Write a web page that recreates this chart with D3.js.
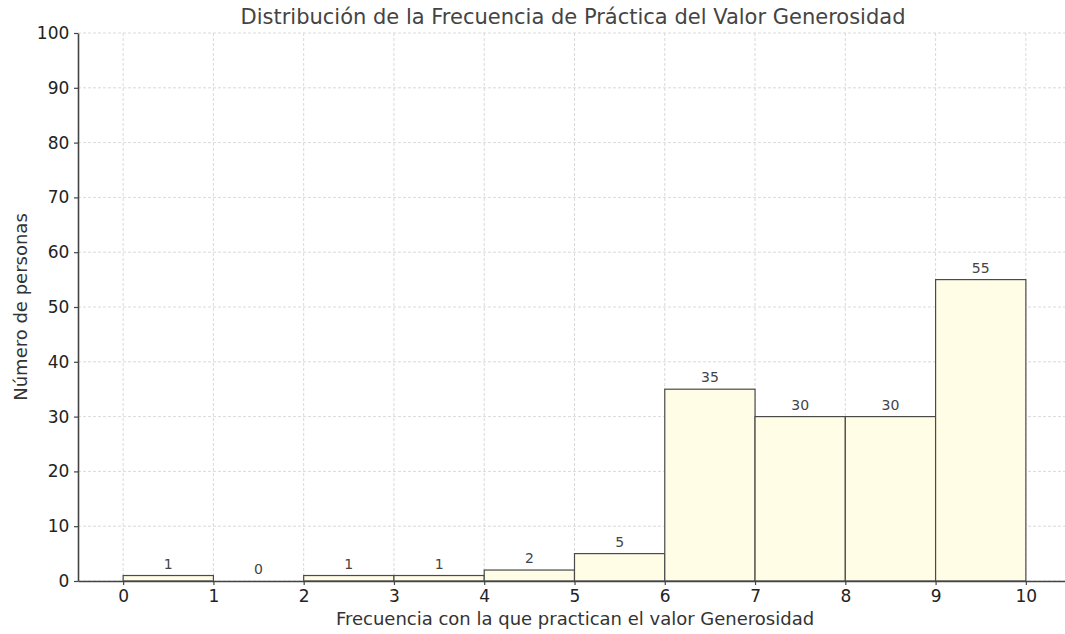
<!DOCTYPE html>
<html>
<head>
<meta charset="utf-8">
<script src="https://cdn.jsdelivr.net/npm/d3@7"></script>
<style>
    body { margin: 0; background: #fff; }
    text { font-family: "DejaVu Sans", sans-serif; }
</style>
</head>
<body>
<div id="chart"></div>
<script>
// bins start at each integer value, width 1
const binStarts = [0, 1, 2, 3, 4, 5, 6, 7, 8, 9];
const counts = [1, 0, 1, 1, 2, 5, 35, 30, 30, 55];
const xTicks = [0, 1, 2, 3, 4, 5, 6, 7, 8, 9, 10];
const yTicks = [0, 10, 20, 30, 40, 50, 60, 70, 80, 90, 100];

const w = 1065;
const h = 634;
const margin = { left: 78, right: -6, top: 33, bottom: 53 };

const xScale = d3.scaleLinear()
    .domain([-0.5, 10.5])
    .range([margin.left, w - margin.right]);

const yScale = d3.scaleLinear()
    .domain([0, 100])
    .range([h - margin.bottom, margin.top]);

const svg = d3.select("#chart")
    .append("svg")
    .attr("width", w)
    .attr("height", h);

// grid
const grid = svg.append("g").attr("class", "grid");
grid.selectAll(".vgrid")
    .data(xTicks)
    .enter()
    .append("line")
    .attr("x1", (d) => xScale(d))
    .attr("x2", (d) => xScale(d))
    .attr("y1", yScale(0))
    .attr("y2", yScale(100))
    .attr("stroke", "#d0d0d0")
    .attr("stroke-width", 0.8)
    .attr("stroke-dasharray", "3,2");
grid.selectAll(".hgrid")
    .data(yTicks)
    .enter()
    .append("line")
    .attr("x1", margin.left)
    .attr("x2", w)
    .attr("y1", (d) => yScale(d))
    .attr("y2", (d) => yScale(d))
    .attr("stroke", "#d0d0d0")
    .attr("stroke-width", 0.8)
    .attr("stroke-dasharray", "3,2");

// bars
svg.selectAll("rect.bar")
    .data(counts)
    .enter()
    .append("rect")
    .attr("class", "bar")
    .attr("x", (d, i) => xScale(binStarts[i]))
    .attr("width", (d, i) => xScale(binStarts[i] + 1) - xScale(binStarts[i]))
    .attr("y", (d) => yScale(d))
    .attr("height", (d) => yScale(0) - yScale(d))
    .attr("fill", "#fffde6")
    .attr("stroke", "#4a4a4a")
    .attr("stroke-width", 1.2);

// value labels
svg.selectAll("text.val")
    .data(counts)
    .enter()
    .append("text")
    .attr("class", "val")
    .attr("x", (d, i) => xScale(binStarts[i] + 0.5))
    .attr("y", (d) => yScale(d) - 7)
    .attr("text-anchor", "middle")
    .attr("font-size", 14)
    .attr("fill", "#444")
    .text((d) => d);

// axes
const xAxis = d3.axisBottom(xScale).tickValues(xTicks).tickSize(4).tickSizeOuter(0);
const yAxis = d3.axisLeft(yScale).tickValues(yTicks).tickSize(4).tickSizeOuter(0);

const gx = svg.append("g")
    .attr("transform", `translate(0,${yScale(0)})`)
    .call(xAxis);
const gy = svg.append("g")
    .attr("transform", `translate(${margin.left},0)`)
    .call(yAxis);

[gx, gy].forEach((g) => {
    g.select(".domain").attr("stroke", "#444").attr("stroke-width", 1.6);
    g.selectAll(".tick line").attr("stroke", "#444").attr("stroke-width", 1.2);
    g.selectAll(".tick text")
        .attr("font-size", 17)
        .attr("fill", "#222")
        .attr("font-family", "DejaVu Sans, sans-serif");
});
gx.selectAll(".tick text").attr("dy", "0.85em");
gy.selectAll(".tick text").attr("dx", "-0.1em");

// title and labels
svg.append("text")
    .attr("x", 573)
    .attr("y", 24)
    .attr("text-anchor", "middle")
    .attr("font-size", 21)
    .attr("fill", "#444")
    .text("Distribución de la Frecuencia de Práctica del Valor Generosidad");

svg.append("text")
    .attr("x", 575)
    .attr("y", 625)
    .attr("text-anchor", "middle")
    .attr("font-size", 18)
    .attr("fill", "#333")
    .text("Frecuencia con la que practican el valor Generosidad");

svg.append("text")
    .attr("transform", `translate(27,${(yScale(0) + yScale(100)) / 2}) rotate(-90)`)
    .attr("text-anchor", "middle")
    .attr("font-size", 18)
    .attr("fill", "#333")
    .text("Número de personas");
</script>
</body>
</html>
